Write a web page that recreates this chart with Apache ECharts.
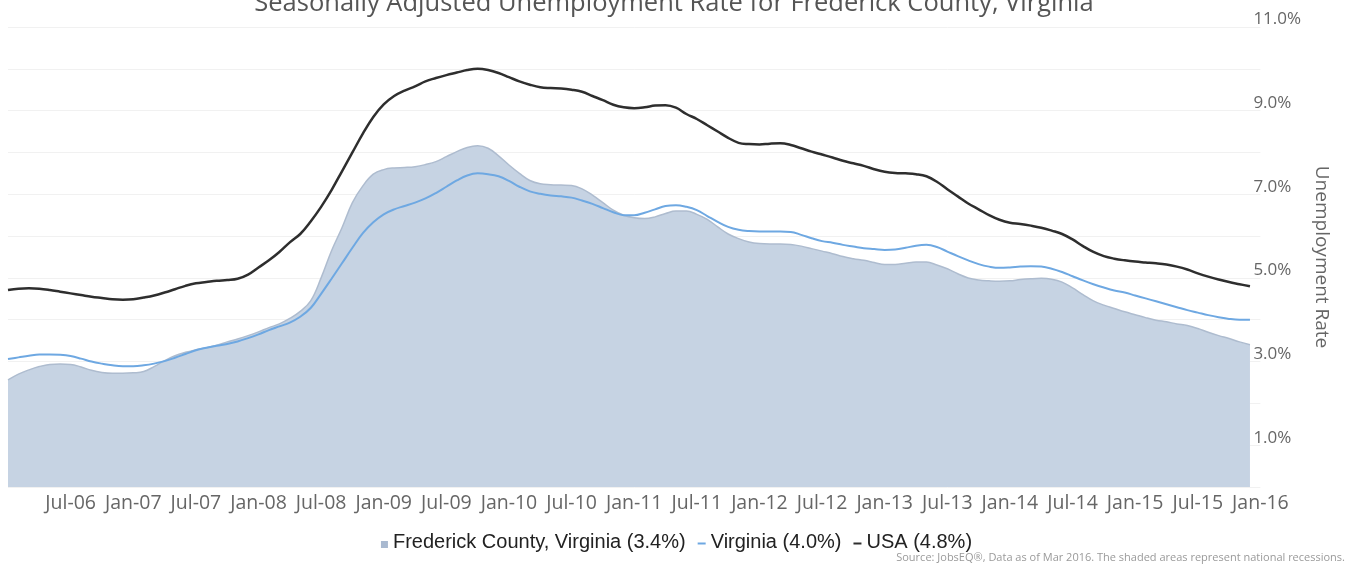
<!DOCTYPE html>
<html>
<head>
<meta charset="utf-8">
<title>Seasonally Adjusted Unemployment Rate for Frederick County, Virginia</title>
<script src="https://cdn.jsdelivr.net/npm/echarts@6/dist/echarts.min.js"></script>
<style>
  html, body { margin: 0; padding: 0; background: #ffffff; }
  #chart { width: 1348px; height: 565px; }
</style>
</head>
<body>
<div id="chart"></div>
<script>
// Monthly unemployment rate (%), Jan 2006 through Dec 2015
const frederick = [
  2.56, 2.70, 2.80, 2.88, 2.93, 2.94, 2.93, 2.87, 2.79, 2.74, 2.72, 2.72,
  2.73, 2.76, 2.88, 3.02, 3.14, 3.22, 3.28, 3.33, 3.39, 3.47, 3.54, 3.62,
  3.71, 3.81, 3.90, 4.03, 4.20, 4.45, 5.00, 5.65, 6.20, 6.80, 7.20, 7.48,
  7.59, 7.63, 7.64, 7.66, 7.71, 7.78, 7.90, 8.02, 8.12, 8.16, 8.10, 7.92,
  7.70, 7.50, 7.33, 7.25, 7.23, 7.22, 7.21, 7.13, 6.98, 6.80, 6.62, 6.50,
  6.44, 6.42, 6.46, 6.54, 6.60, 6.60, 6.52, 6.40, 6.22, 6.05, 5.94, 5.86,
  5.82, 5.81, 5.81, 5.80, 5.76, 5.70, 5.64, 5.58, 5.51, 5.46, 5.42, 5.37,
  5.32, 5.32, 5.35, 5.38, 5.38, 5.31, 5.22, 5.10, 5.00, 4.95, 4.93, 4.92,
  4.93, 4.96, 4.98, 4.99, 4.97, 4.90, 4.76, 4.60, 4.45, 4.35, 4.27, 4.19,
  4.12, 4.05, 3.99, 3.95, 3.90, 3.86, 3.79, 3.70, 3.62, 3.55, 3.47, 3.40
];
const virginia = [
  3.06, 3.10, 3.14, 3.17, 3.17, 3.16, 3.13, 3.07, 3.00, 2.95, 2.91, 2.89,
  2.89, 2.91, 2.95, 3.01, 3.09, 3.18, 3.27, 3.33, 3.38, 3.42, 3.48, 3.56,
  3.65, 3.75, 3.84, 3.93, 4.07, 4.28, 4.62, 4.98, 5.35, 5.72, 6.07, 6.33,
  6.52, 6.64, 6.72, 6.80, 6.90, 7.03, 7.18, 7.33, 7.45, 7.50, 7.48, 7.43,
  7.32, 7.18, 7.07, 7.01, 6.97, 6.95, 6.92, 6.85, 6.77, 6.67, 6.57, 6.50,
  6.50, 6.56, 6.64, 6.72, 6.74, 6.70, 6.62, 6.48, 6.34, 6.22, 6.15, 6.12,
  6.11, 6.11, 6.11, 6.10, 6.03, 5.95, 5.88, 5.84, 5.79, 5.75, 5.71, 5.69,
  5.67, 5.68, 5.72, 5.77, 5.79, 5.74, 5.63, 5.52, 5.42, 5.33, 5.27, 5.24,
  5.25, 5.27, 5.28, 5.27, 5.22, 5.14, 5.04, 4.94, 4.85, 4.77, 4.70, 4.65,
  4.58, 4.51, 4.44, 4.37, 4.30, 4.23, 4.17, 4.11, 4.06, 4.02, 4.00, 4.00
];
const usa = [
  4.71, 4.74, 4.75, 4.74, 4.71, 4.67, 4.63, 4.59, 4.55, 4.52, 4.49, 4.48,
  4.49, 4.53, 4.58, 4.65, 4.73, 4.81, 4.87, 4.90, 4.93, 4.95, 4.98, 5.08,
  5.25, 5.42, 5.62, 5.85, 6.05, 6.35, 6.70, 7.10, 7.55, 8.00, 8.45, 8.85,
  9.15, 9.35, 9.48, 9.58, 9.70, 9.78, 9.85, 9.91, 9.97, 10.00, 9.97, 9.90,
  9.80, 9.70, 9.62, 9.56, 9.54, 9.53, 9.50, 9.45, 9.35, 9.25, 9.14, 9.08,
  9.06, 9.08, 9.12, 9.13, 9.07, 8.92, 8.80, 8.65, 8.50, 8.35, 8.23, 8.20,
  8.19, 8.21, 8.22, 8.18, 8.10, 8.02, 7.95, 7.88, 7.80, 7.74, 7.68, 7.60,
  7.54, 7.51, 7.50, 7.48, 7.43, 7.30, 7.12, 6.95, 6.78, 6.64, 6.50, 6.39,
  6.32, 6.29, 6.25, 6.20, 6.13, 6.05, 5.92, 5.76, 5.62, 5.52, 5.46, 5.42,
  5.39, 5.37, 5.35, 5.32, 5.27, 5.20, 5.11, 5.03, 4.96, 4.90, 4.85, 4.80
];

// Axis months: Jan-06 .. Jan-16 (labels shown every six months)
const monthNames = ['Jan', 'Feb', 'Mar', 'Apr', 'May', 'Jun', 'Jul', 'Aug', 'Sep', 'Oct', 'Nov', 'Dec'];
const months = [];
for (let k = 0; k <= 120; k++) {
  const yr = 6 + Math.floor(k / 12);
  months.push(monthNames[k % 12] + '-' + String(yr).padStart(2, '0'));
}

const latest = arr => arr[arr.length - 1].toFixed(1);
const nameFrederick = 'Frederick County, Virginia (' + latest(frederick) + '%)';
const nameVirginia = 'Virginia (' + latest(virginia) + '%)';
const nameUsa = 'USA (' + latest(usa) + '%)';

const chart = echarts.init(document.getElementById('chart'), null, { renderer: 'canvas' });

chart.setOption({
  animation: false,
  backgroundColor: '#ffffff',
  title: {
    text: 'Seasonally Adjusted Unemployment Rate for Frederick County, Virginia',
    left: 'center',
    top: -14,
    textStyle: {
      fontFamily: 'Open Sans',
      fontSize: 25.5,
      fontWeight: 'normal',
      color: '#555555',
      lineHeight: 26
    }
  },
  grid: { left: 8, right: 87.6, top: 27, bottom: 78, containLabel: false },
  legend: {
    left: 'center',
    top: 527,
    itemWidth: 12,
    itemHeight: 12,
    itemGap: 8,
    textStyle: { fontFamily: 'Liberation Sans', fontSize: 20, color: '#222222' },
    data: [
      { name: nameFrederick, icon: 'path://M0,0M12,12M5,5H12V12H5Z', itemStyle: { color: '#a9b9d0' } },
      { name: nameVirginia, icon: 'path://M0,0M12,12M4,6.5H12V8.5H4Z' },
      { name: nameUsa, icon: 'path://M0,0M12,12M4,6.5H12V8.5H4Z' }
    ]
  },
  xAxis: {
    type: 'category',
    data: months,
    boundaryGap: false,
    axisLine: { show: false },
    axisTick: { show: false },
    splitLine: { show: false },
    axisLabel: {
      interval: (index) => index > 0 && index % 6 === 0,
      fontFamily: 'Open Sans',
      fontSize: 19.5,
      color: '#666666',
      margin: 6,
      showMaxLabel: true
    }
  },
  yAxis: {
    type: 'value',
    position: 'right',
    min: 0,
    max: 11,
    interval: 1,
    axisLine: { show: false },
    axisTick: { show: false },
    splitLine: { lineStyle: { color: '#f1f1f1', width: 1 } },
    axisLabel: {
      formatter: (v) => (Math.round(v) % 2 === 1 ? v.toFixed(1) + '%' : ''),
      fontFamily: 'Open Sans',
      fontSize: 17,
      color: '#666666',
      margin: -7,
      align: 'left',
      verticalAlign: 'bottom',
      lineHeight: 17,
      padding: [0, 0, -1, 0]
    },
    name: 'Unemployment Rate',
    nameLocation: 'middle',
    nameRotate: -90,
    nameGap: 52,
    nameTextStyle: { fontFamily: 'Open Sans', fontSize: 19, color: '#666666' }
  },
  series: [
    {
      name: nameFrederick,
      type: 'line',
      data: frederick,
      smooth: 0.4,
      showSymbol: false,
      z: 1,
      lineStyle: { color: '#aebccf', width: 1.5 },
      itemStyle: { color: '#a9b9d0' },
      areaStyle: { color: '#c6d3e3', opacity: 1 }
    },
    {
      name: nameVirginia,
      type: 'line',
      data: virginia,
      smooth: 0.4,
      showSymbol: false,
      z: 3,
      lineStyle: { color: '#6ea8e2', width: 2 },
      itemStyle: { color: '#6ea8e2' }
    },
    {
      name: nameUsa,
      type: 'line',
      data: usa,
      smooth: 0.4,
      showSymbol: false,
      z: 4,
      lineStyle: { color: '#2e2e2e', width: 2.5 },
      itemStyle: { color: '#2e2e2e' }
    }
  ],
  graphic: [
    {
      type: 'text',
      right: 3,
      top: 552,
      style: {
        text: 'Source: JobsEQ\u00ae, Data as of Mar 2016. The shaded areas represent national recessions.',
        font: '11px "Open Sans"',
        fill: '#9a9a9a'
      }
    }
  ]
});
</script>
</body>
</html>
